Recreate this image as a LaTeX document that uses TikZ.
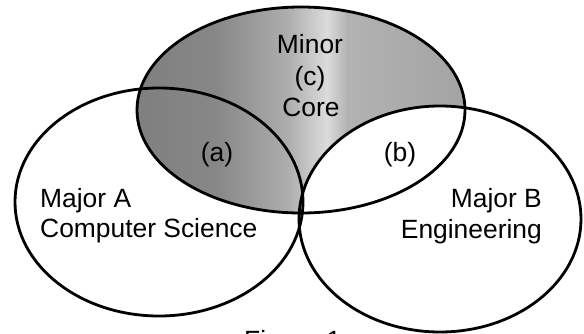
\documentclass[tikz,border=0pt]{standalone}
\usepackage{fontspec}
\setmainfont{Liberation Sans}
% grey wash of the minor set: darker on the left, a pale streak near the middle
\pgfdeclarehorizontalshading{minorshade}{100bp}{color(0bp)=(black!50); color(25bp)=(black!50); color(37bp)=(black!47); color(48bp)=(black!32); color(54bp)=(black!14); color(57bp)=(black!30); color(75bp)=(black!36); color(100bp)=(black!36)}
\begin{document}
\begin{tikzpicture}[x=1pt,y=-1pt,
  outline/.style={line width=2.8pt},
  lbl/.style={inner sep=0pt, font=\fontsize{26.4}{31}\selectfont}]
\useasboundingbox (0,0) rectangle (584,333);
% minor set, shaded, with its overlap with major B left white
\shade[shading=minorshade] (301,110) ellipse [x radius=164pt, y radius=103pt];
\fill[white] (440,219) ellipse [x radius=141pt, y radius=113pt];
% outlines of the three sets
\draw[outline] (159,202) ellipse [x radius=144pt, y radius=114pt];
\draw[outline] (440,219) ellipse [x radius=141pt, y radius=113pt];
\draw[outline] (301,110) ellipse [x radius=164pt, y radius=103pt];
% labels
\node[lbl, anchor=base west] (majA1) at (40,207.5) {Major A};
\node[lbl, anchor=base west] (majA2) at (40,237) {Computer Science};
\node[lbl, anchor=base east] (majB1) at (542,207.5) {Major B};
\node[lbl, anchor=base east] (majB2) at (542,238.5) {Engineering};
\node[lbl, anchor=base] (minor) at (310,53) {Minor};
\node[lbl, anchor=base] (setc) at (310,85) {(c)};
\node[lbl, anchor=base] (core) at (311,116.5) {Core};
\node[lbl, anchor=base] (seta) at (217,161.5) {(a)};
\node[lbl, anchor=base] (setb) at (400,161.5) {(b)};
\node[lbl, anchor=north west] (caption) at (244,330) {Figure 1};
\end{tikzpicture}
\end{document}
